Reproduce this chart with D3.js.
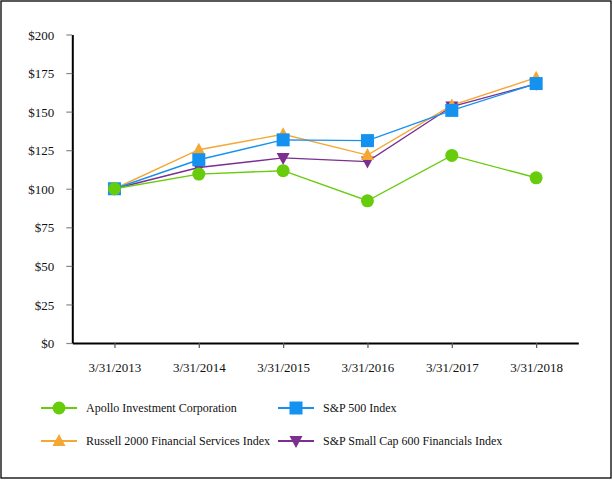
<!DOCTYPE html>
<html><head><meta charset="utf-8">
<script src="https://cdn.jsdelivr.net/npm/d3@7"></script>
<style>
html,body{margin:0;padding:0;background:#fff;}
</style></head>
<body><svg id="c" width="613" height="480"></svg>
<script>
const dates = ["3/31/2013","3/31/2014","3/31/2015","3/31/2016","3/31/2017","3/31/2018"];
const apollo = [100, 109.5, 111.7, 92.2, 121.6, 107.1];
const sp500 = [100, 118.8, 131.7, 131.2, 150.8, 168.2];
const russell = [100, 125.3, 135.3, 121.8, 154, 172];
const spSmall = [100, 113.8, 120, 117.6, 153.3, 168];
const yTicks = [0,25,50,75,100,125,150,175,200];
const seriesNames = ["Apollo Investment Corporation","S&P 500 Index","Russell 2000 Financial Services Index","S&P Small Cap 600 Financials Index"];

const FONT = "Liberation Serif";
const svg = d3.select("#c");
svg.append("rect").attr("x",1).attr("y",1).attr("width",610).attr("height",477)
  .attr("fill","none").attr("stroke","#000").attr("stroke-width",1.3);

const x = d3.scalePoint().domain(dates).range([72.3,578.3]).padding(0.5);
const y = d3.scaleLinear().domain([0,200]).range([343,34.5]);

// y axis
const ya = svg.append("g").attr("transform","translate(72.3,0)")
  .call(d3.axisLeft(y).tickValues(yTicks).tickSize(6).tickSizeOuter(0).tickFormat(d=>"$"+d));
ya.attr("font-family",FONT).attr("font-size",13);
ya.select(".domain").attr("stroke","#000").attr("stroke-width",2);
ya.selectAll(".tick line").attr("stroke","#888").attr("stroke-width",1.2);
ya.selectAll(".tick text").attr("x",-18).attr("dy","0.35em").attr("fill","#111");

// x axis
const xa = svg.append("g").attr("transform","translate(0,343)")
  .call(d3.axisBottom(x).tickSize(5).tickSizeOuter(0));
xa.attr("font-family",FONT).attr("font-size",13);
xa.select(".domain").attr("stroke","#000").attr("stroke-width",2);
xa.selectAll(".tick line").attr("stroke","#555").attr("stroke-width",1.2);
xa.selectAll(".tick text").attr("y",20).attr("dy","0.71em").attr("fill","#111");

const series = [
  {name:seriesNames[3], vals:spSmall, color:"#7b2f8f", sym:"down"},
  {name:seriesNames[2], vals:russell, color:"#f5a733", sym:"up"},
  {name:seriesNames[1], vals:sp500, color:"#1592f0", sym:"square"},
  {name:seriesNames[0], vals:apollo, color:"#66cc0c", sym:"circle"}
];
function sym(g, s, cx, cy){
  if(s.sym==="circle") g.append("circle").attr("cx",cx).attr("cy",cy).attr("r",6.5).attr("fill",s.color);
  else if(s.sym==="square") g.append("rect").attr("x",cx-6.5).attr("y",cy-6.5).attr("width",13).attr("height",13).attr("fill",s.color);
  else if(s.sym==="up") g.append("path").attr("d",`M${cx},${cy-7}L${cx+6.5},${cy+5}L${cx-6.5},${cy+5}Z`).attr("fill",s.color);
  else g.append("path").attr("d",`M${cx},${cy+7}L${cx+6.5},${cy-5}L${cx-6.5},${cy-5}Z`).attr("fill",s.color);
}
const line = d3.line().x((d,i)=>x(dates[i])).y(d=>y(d));
series.forEach(s=>{
  svg.append("path").attr("d",line(s.vals)).attr("fill","none").attr("stroke",s.color).attr("stroke-width",1.4);
});
series.forEach(s=>{
  const g = svg.append("g");
  s.vals.forEach((v,i)=>sym(g,s,x(dates[i]),y(v)));
});

// legend
const leg = [
  {s:series[3], lx:41, ly:408},
  {s:series[2], lx:278, ly:408},
  {s:series[1], lx:41, ly:441},
  {s:series[0], lx:278, ly:441}
];
leg.forEach(l=>{
  const g = svg.append("g");
  g.append("line").attr("x1",l.lx).attr("x2",l.lx+36).attr("y1",l.ly).attr("y2",l.ly).attr("stroke",l.s.color).attr("stroke-width",2);
  sym(g,l.s,l.lx+18,l.ly);
  g.append("text").attr("x",l.lx+45).attr("y",l.ly).attr("dy","0.35em")
    .attr("font-family",FONT).attr("font-size",12).attr("fill","#111").text(l.s.name);
});
</script></body></html>
